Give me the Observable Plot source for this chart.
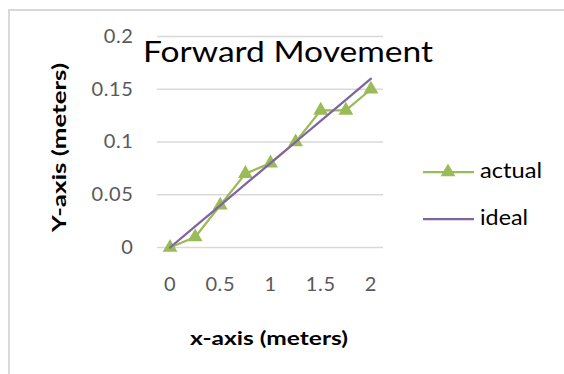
<!DOCTYPE html>
<html><head><meta charset="utf-8">
<script src="https://cdn.jsdelivr.net/npm/d3@7"></script>
<script src="https://cdn.jsdelivr.net/npm/@observablehq/plot@0.6"></script>
<style>
body{margin:0;background:#fff;}
#wrap{position:relative;width:564px;height:374px;overflow:hidden;font-family:Lato,"Open Sans",sans-serif;background:#fff;}
#frame{position:absolute;left:8px;top:9px;width:620px;height:420px;border-top:2px solid #D9D9D9;border-left:2px solid #D9D9D9;box-sizing:border-box;}
#plot{position:absolute;left:0;top:0;}
#over{position:absolute;left:0;top:0;pointer-events:none;}
#plot text{letter-spacing:0.6px;}
</style></head>
<body>
<div id="wrap"><div id="frame"></div><div id="plot"></div>
<svg id="over" width="564" height="374"></svg></div>
<script>
const distance = [0, 0.25, 0.5, 0.75, 1, 1.25, 1.5, 1.75, 2];
const actual = [0, 0.01, 0.04, 0.07, 0.08, 0.10, 0.13, 0.13, 0.15];
const ideal = [0, 0.02, 0.04, 0.06, 0.08, 0.10, 0.12, 0.14, 0.16];
const xTicks = [0, 0.5, 1, 1.5, 2];
const yTicks = [0, 0.05, 0.1, 0.15, 0.2];
const seriesNames = ["actual", "ideal"];
const seriesColors = ["#9BBB59", "#8064A2"];
const titleText = "Forward Movement";
const xLabel = "x-axis (meters)";
const yLabel = "Y-axis (meters)";

const actualData = distance.map((d, i) => ({x: d, y: actual[i]}));
const idealData = distance.map((d, i) => ({x: d, y: ideal[i]}));

const chart = Plot.plot({
  width: 564, height: 374,
  marginLeft: 157, marginRight: 181, marginTop: 36, marginBottom: 127,
  style: {fontFamily: "Lato, sans-serif", fontSize: "20px", color: "#595959", background: "transparent"},
  x: {domain: [-0.125, 2.125], ticks: xTicks, tickFormat: d => String(d), label: null},
  y: {domain: [0, 0.2], ticks: yTicks, tickFormat: d => String(d), label: null},
  marks: [
    Plot.gridY(yTicks, {stroke: "#D9D9D9", strokeOpacity: 1, strokeWidth: 1.5}),
    Plot.axisX(xTicks, {tickSize: 0, tickPadding: 29, fill: "#595959", fontSize: 20, tickFormat: d => String(d)}),
    Plot.axisY(yTicks, {tickSize: 0, tickPadding: 24, fill: "#595959", fontSize: 20, tickFormat: d => String(d)}),
    Plot.line(actualData, {x: "x", y: "y", stroke: seriesColors[0], strokeWidth: 2.25}),
    Plot.dot(actualData, {x: "x", y: "y", symbol: "triangle", r: 5.5, fill: seriesColors[0], stroke: "none"}),
    Plot.line(idealData, {x: "x", y: "y", stroke: seriesColors[1], strokeWidth: 2.25})
  ]
});
document.getElementById("plot").appendChild(chart);

const ns = "http://www.w3.org/2000/svg";
const over = document.getElementById("over");
function txt(s, attrs) {
  const t = document.createElementNS(ns, "text");
  for (const k in attrs) t.setAttribute(k, attrs[k]);
  t.setAttribute("font-family", "Lato, sans-serif");
  t.textContent = s;
  over.appendChild(t);
  return t;
}
function el(name, attrs) {
  const e = document.createElementNS(ns, name);
  for (const k in attrs) e.setAttribute(k, attrs[k]);
  over.appendChild(e);
  return e;
}
txt(titleText, {x: 143, y: 62, "font-size": 29, fill: "#000", textLength: 290, lengthAdjust: "spacingAndGlyphs"});
txt(xLabel, {x: 190, y: 345, "font-size": 19, "font-weight": "bold", fill: "#000", textLength: 158, lengthAdjust: "spacingAndGlyphs"});
txt(yLabel, {transform: "translate(66,232) rotate(-90)", "font-size": 19, "font-weight": "bold", fill: "#000", textLength: 169, lengthAdjust: "spacingAndGlyphs"});
// legend
const legY = [172, 219];
const legW = [62, 48];
seriesNames.forEach((name, i) => {
  el("line", {x1: 423, x2: 474, y1: legY[i], y2: legY[i], stroke: seriesColors[i], "stroke-width": 2.25});
  if (i === 0) {
    const sym = d3.symbol(d3.symbolTriangle, Math.PI * 5.5 * 5.5)();
    el("path", {d: sym, transform: `translate(448,${legY[i]})`, fill: seriesColors[i]});
  }
  txt(name, {x: 480, y: legY[i] + 6, "font-size": 21, fill: "#000", textLength: legW[i], lengthAdjust: "spacingAndGlyphs"});
});
</script>
</body></html>
